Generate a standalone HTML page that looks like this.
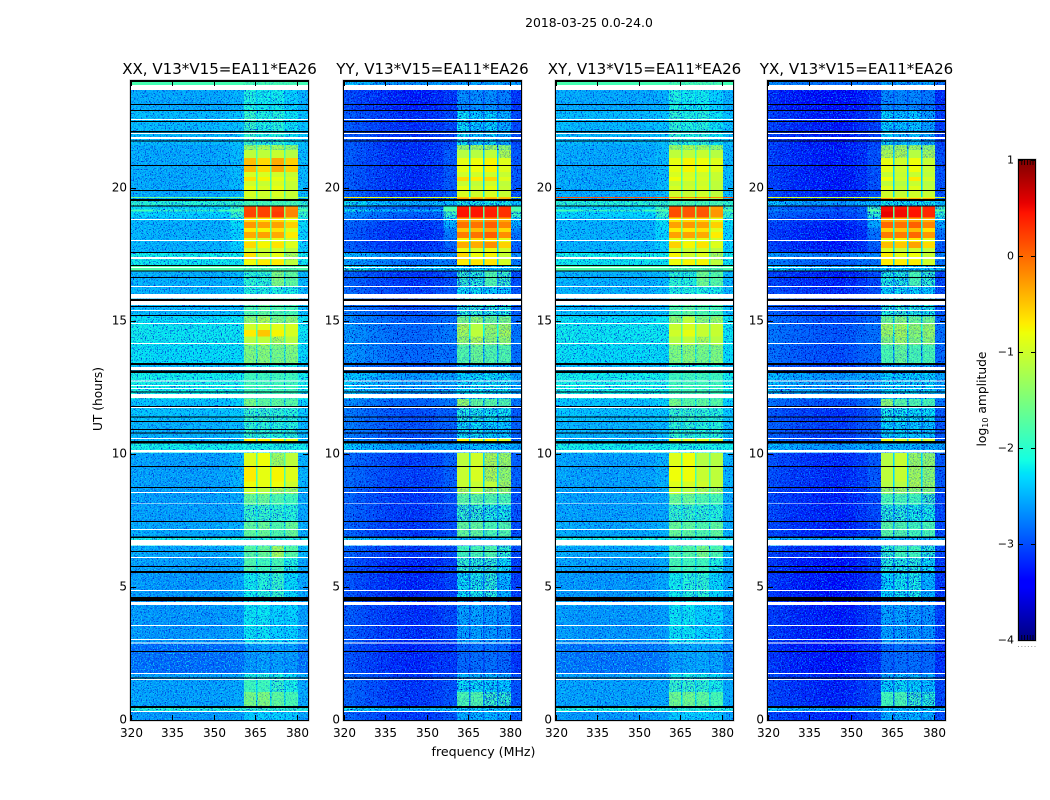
<!DOCTYPE html>
<html>
<head>
<meta charset="utf-8">
<title>2018-03-25 0.0-24.0</title>
<style>
html,body{margin:0;padding:0;background:#fff;}
svg{display:block;font-family:"DejaVu Sans","Liberation Sans",sans-serif;}
</style>
</head>
<body>
<svg id="chart" xmlns="http://www.w3.org/2000/svg" width="1050" height="800" viewBox="0 0 1050 800">
  <defs>
    <filter id="grain-dark-a" x="0" y="0" width="100%" height="100%" color-interpolation-filters="sRGB"><feTurbulence type="fractalNoise" baseFrequency="0.75" numOctaves="2" seed="4"/><feColorMatrix type="matrix" values="0 0 0 0 0  0 0 0 0 0.2  0 0 0 0 0.85  9 0 0 0 -5"/></filter>
    <filter id="grain-light-a" x="0" y="0" width="100%" height="100%" color-interpolation-filters="sRGB"><feTurbulence type="fractalNoise" baseFrequency="0.75" numOctaves="2" seed="9"/><feColorMatrix type="matrix" values="0 0 0 0 0.05  0 0 0 0 0.8  0 0 0 0 0.95  0 9 0 0 -5"/></filter>
    <filter id="grain-dark-b" x="0" y="0" width="100%" height="100%" color-interpolation-filters="sRGB"><feTurbulence type="fractalNoise" baseFrequency="0.75" numOctaves="2" seed="14"/><feColorMatrix type="matrix" values="0 0 0 0 0  0 0 0 0 0  0 0 0 0 0.7  9 0 0 0 -5"/></filter>
    <filter id="grain-light-b" x="0" y="0" width="100%" height="100%" color-interpolation-filters="sRGB"><feTurbulence type="fractalNoise" baseFrequency="0.75" numOctaves="2" seed="21"/><feColorMatrix type="matrix" values="0 0 0 0 0  0 0 0 0 0.5  0 0 0 0 1  0 9 0 0 -5"/></filter>
  </defs>
  <text x="589" y="27" font-size="12.4" text-anchor="middle" fill="#000">2018-03-25 0.0-24.0</text>
  <text x="483.5" y="756" font-size="12.6" text-anchor="middle" fill="#000">frequency (MHz)</text>
  <text x="102" y="399" font-size="12.2" text-anchor="middle" fill="#000" transform="rotate(-90 102 399)">UT (hours)</text>
  <text x="986" y="399" font-size="12.3" text-anchor="middle" fill="#000" transform="rotate(-90 986 399)">log<tspan font-size="8" dy="2">10</tspan><tspan dy="-2"> amplitude</tspan></text>
</svg>
<script>
const panelTitles = ["XX, V13*V15=EA11*EA26", "YY, V13*V15=EA11*EA26", "XY, V13*V15=EA11*EA26", "YX, V13*V15=EA11*EA26"];
const freqTicks = [320, 335, 350, 365, 380];
const hourTicks = [0, 5, 10, 15, 20];
const colorbarTicks = [1, 0, -1, -2, -3, -4];
const colorbarTickLabels = ["1", "0", "\u22121", "\u22122", "\u22123", "\u22124"];

// Channel boundaries (MHz) and the table column each channel reads from.
// Columns: 0 background, 1 near-band, 2 band gap, 3-6 the four sub-bands.
const channelStarts = [320, 324, 328, 332, 336, 340, 344, 348, 352, 356, 360.85, 365.2, 365.7, 370.3, 370.8, 375.4, 375.8, 380.3];
const channelEnd = 384;
const channelColumns = [0, 0, 0, 0, 0, 0, 0, 0, 0, 1, 3, 2, 4, 2, 5, 2, 6, 1];

// Start of each time segment (UT hours).
const segmentStarts = [0,0.34,0.53,1.05,1.5,1.77,2.85,4.62,5.52,6.08,6.53,6.87,7.44,8.08,8.49,8.71,8.95,9.5,10.03,10.48,10.55,11.2,11.8,12.05,13.03,13.37,14.08,14.4,14.65,14.9,15.15,16,16.26,16.85,17.05,17.28,17.58,17.73,17.95,18.1,18.33,18.48,18.7,18.87,19.1,19.17,19.3,19.57,19.6,19.64,19.91,20.06,20.24,20.39,20.58,21.11,21.41,21.6,22.9,23.85];
const segmentEnd = 24;

// log10 amplitude per segment: [background, near-band, gap, band1, band2, band3, band4]
const levelsXX = [
[-2.65,-2.6,-2.5,-2.35,-2.3,-2.3,-2.35],[-2.05,-2.05,-2.05,-1.95,-1.95,-1.95,-1.95],[-2.6,-2.55,-2.2,-1.5,-1.45,-1.65,-1.8],[-2.6,-2.55,-2.3,-1.85,-1.85,-1.9,-2.1],[-2.6,-2.55,-2.4,-2.1,-2.05,-2.1,-2.25],[-2.9,-2.85,-2.8,-2.65,-2.6,-2.6,-2.65],[-2.65,-2.6,-2.5,-2.2,-2.2,-2.3,-2.3],[-2.65,-2.55,-2.4,-2.15,-2,-1.9,-2.25],[-2.6,-2.55,-2.25,-1.75,-1.85,-1.8,-2.05],[-2.55,-2.45,-2.15,-1.7,-1.6,-1.25,-1.7],[-2.15,-2.15,-2.15,-2.05,-2.05,-2.05,-2.05],[-2.55,-2.5,-2.1,-1.65,-1.6,-1.75,-1.6],[-2.6,-2.55,-2.2,-1.9,-1.9,-1.95,-2],[-2.6,-2.55,-2.1,-1.6,-1.6,-1.75,-1.85],[-2.6,-2.5,-1.9,-1.05,-1.15,-1.2,-1.3],[-2.6,-2.5,-1.85,-0.8,-0.85,-0.8,-1],[-2.6,-2.5,-1.8,-0.7,-0.85,-0.75,-0.9],[-2.6,-2.5,-1.8,-0.9,-0.8,-1.25,-1.1],[-2.15,-2.15,-2.15,-2.1,-2.1,-2.1,-2.1],[-2.45,-2.4,-2,-0.75,-0.75,-0.75,-0.9],[-2.5,-2.45,-2.25,-1.95,-1.95,-2,-2],[-2.4,-2.35,-2.15,-1.9,-1.9,-1.95,-2],[-2.4,-2.3,-2.1,-1.5,-1.65,-1.65,-1.7],[-2.15,-2.15,-2.05,-1.85,-1.85,-1.85,-1.85],[-2.45,-2.45,-2.3,-2.1,-2.1,-2.1,-2.1],[-2.25,-2.25,-2,-1.45,-1.4,-1.5,-1.45],[-2.2,-2.2,-1.8,-1.15,-1.1,-1.2,-1.15],[-2.2,-2.2,-1.7,-0.7,-0.5,-0.75,-0.95],[-2.2,-2.2,-1.7,-1,-0.9,-0.9,-0.95],[-2.25,-2.2,-1.9,-1.35,-1.2,-1.45,-1.35],[-2.45,-2.4,-2.1,-1.75,-1.65,-1.75,-1.8],[-2.5,-2.45,-2.3,-2.05,-2.05,-2.05,-2.1],[-2.5,-2.45,-2.2,-1.95,-1.95,-1.45,-1.65],[-1.8,-1.8,-1.8,-1.75,-1.75,-1.75,-1.75],[-2.2,-2.2,-1.8,-0.8,-0.7,-0.7,-1.1],[-2.15,-2.15,-1.8,-0.65,-1.0,-0.85,-1.2],[-2.5,-2.35,-1.8,-1,-1.05,-1,-1.15],[-2.5,-2.3,-1.7,-0.6,-0.75,-0.65,-0.9],[-2.5,-2.3,-1.7,-0.85,-0.95,-0.85,-1],[-2.5,-2.3,-1.65,-0.35,-0.3,-0.35,-0.7],[-2.5,-2.3,-1.65,-0.7,-0.75,-0.65,-0.9],[-2.5,-2.25,-1.6,-0.25,-0.3,-0.3,-0.55],[-2.45,-2.2,-1.6,-0.6,-0.65,-0.6,-0.85],[-2.3,-1.9,-1.4,0.2,0.2,0.25,-0.15],[-1.9,-1.75,-1.4,0.2,0.2,0.2,-0.15],[-2.3,-1.9,-1.4,0.15,0.2,0.2,-0.2],[-2,-1.95,-1.9,-1.8,-1.8,-1.8,-1.8],[-2.55,-2.4,-1.8,-0.95,-1,-1,-1.15],[-1.6,-1.5,-1.4,-1.1,-1.1,-1.1,-1.1],[-2.55,-2.45,-1.8,-0.95,-1,-0.95,-1.05],[-2.55,-2.45,-1.8,-0.85,-0.95,-0.85,-1.05],[-2.55,-2.45,-1.8,-1,-1.05,-0.95,-1.05],[-2.55,-2.45,-1.75,-0.65,-0.75,-0.85,-0.95],[-2.55,-2.45,-1.8,-0.95,-0.95,-1,-1.05],[-2.55,-2.45,-1.7,-0.45,-0.6,-0.35,-0.55],[-2.55,-2.45,-1.8,-1.1,-1.1,-1.05,-1.15],[-2.55,-2.45,-1.85,-1.3,-1.2,-1.25,-1.35],[-2.45,-2.4,-2.2,-1.9,-2.05,-2,-2.2],[-2.55,-2.5,-2.35,-2.05,-2.15,-2.15,-2.3],[-1.85,-1.85,-1.85,-1.8,-1.8,-1.8,-1.8]
];
const levelsYY = [
[-3.1,-2.95,-2.75,-2.45,-2.4,-2.4,-2.45],[-2.4,-2.4,-2.4,-2.25,-2.25,-2.25,-2.25],[-3.1,-3,-2.6,-1.8,-1.75,-1.9,-1.95],[-3.1,-3,-2.7,-2.2,-2.2,-2.25,-2.3],[-3.1,-3,-2.8,-2.4,-2.35,-2.4,-2.5],[-3.2,-3.15,-3.05,-2.85,-2.8,-2.8,-2.85],[-3.15,-3.05,-2.9,-2.5,-2.5,-2.55,-2.6],[-3.2,-3.1,-2.75,-2.2,-2.1,-2,-2.4],[-3.2,-3.1,-2.65,-1.95,-2,-1.95,-2.2],[-3.1,-3,-2.55,-1.85,-1.8,-1.75,-1.95],[-2.45,-2.45,-2.45,-2.35,-2.35,-2.35,-2.35],[-3.1,-3,-2.45,-1.65,-1.65,-1.8,-1.75],[-3.1,-3,-2.55,-1.95,-1.95,-2.05,-2.1],[-3.1,-3,-2.45,-1.7,-1.7,-1.75,-1.8],[-3.1,-2.95,-2.3,-1.2,-1.15,-1.3,-1.35],[-3.05,-2.9,-2.3,-1.05,-1.05,-1.1,-1.25],[-3.05,-2.9,-2.3,-1.05,-0.95,-1.2,-1.35],[-3.05,-2.9,-2.3,-1.1,-1,-1.2,-1.3],[-2.5,-2.5,-2.45,-2.35,-2.35,-2.35,-2.35],[-2.9,-2.85,-2.3,-0.75,-0.95,-0.75,-0.95],[-2.95,-2.9,-2.65,-2.2,-2.2,-2.25,-2.3],[-2.95,-2.9,-2.55,-2.05,-2.1,-2.15,-2.15],[-2.85,-2.75,-2.35,-1.35,-1.65,-1.7,-1.75],[-2.5,-2.5,-2.35,-2.25,-2.2,-2.2,-2.2],[-2.95,-2.9,-2.75,-2.4,-2.4,-2.4,-2.4],[-2.8,-2.8,-2.45,-1.75,-1.6,-1.75,-1.75],[-2.8,-2.75,-2.25,-1.35,-1.2,-1.4,-1.35],[-2.8,-2.75,-2.15,-1.25,-1.1,-1.35,-1.25],[-2.8,-2.75,-2.15,-1.2,-1.15,-1.3,-1.3],[-2.85,-2.8,-2.25,-1.5,-1.4,-1.6,-1.5],[-2.95,-2.9,-2.55,-2,-1.95,-2,-2.05],[-3.05,-2.95,-2.65,-2.2,-2.2,-2.25,-2.3],[-3.1,-3,-2.55,-1.95,-2,-1.75,-1.9],[-2.35,-2.35,-2.35,-2.3,-2.3,-2.3,-2.3],[-2.75,-2.75,-2.3,-0.7,-0.65,-0.65,-0.95],[-2.6,-2.6,-2.3,-0.6,-0.8,-0.75,-1.05],[-3.1,-2.95,-2.3,-0.85,-0.95,-0.85,-1],[-3.15,-2.85,-2.3,-0.35,-0.35,-0.2,-0.55],[-3.15,-2.8,-2.3,-0.75,-0.6,-0.6,-0.85],[-3.15,-2.75,-2.2,-0.1,-0.05,0.05,-0.2],[-3.15,-2.7,-2.2,-0.5,-0.45,-0.35,-0.6],[-3.1,-2.45,-2.15,-0.05,-0.05,0.05,-0.15],[-3,-2.3,-2.1,-0.3,-0.3,-0.2,-0.35],[-2.85,-1.9,-1.7,0.45,0.45,0.4,0.3],[-2.35,-1.7,-1.6,0.45,0.45,0.4,0.3],[-2.85,-1.85,-1.7,0.4,0.4,0.35,0.3],[-2.4,-2.35,-2.25,-2.1,-2.1,-2.1,-2.1],[-3.05,-2.75,-1.6,-0.25,-0.3,-0.3,-0.35],[-0.9,-0.9,-0.9,-0.5,-0.5,-0.5,-0.5],[-3.1,-2.95,-2.2,-0.95,-1,-0.95,-1.05],[-3.15,-2.95,-2.3,-0.85,-1,-0.85,-1.05],[-3.15,-2.95,-2.3,-1.05,-1.1,-1,-1.1],[-3.15,-2.95,-2.3,-0.6,-0.7,-0.6,-0.9],[-3.15,-2.95,-2.3,-1,-1,-1,-1.05],[-3.15,-2.95,-2.3,-0.85,-0.8,-0.75,-0.9],[-3.15,-2.95,-2.35,-1.15,-1.15,-1.1,-1.2],[-3.15,-3,-2.4,-1.35,-1.3,-1.3,-1.4],[-3.15,-3.05,-2.75,-2.2,-2.3,-2.25,-2.45],[-3.25,-3.15,-2.95,-2.6,-2.6,-2.6,-2.7],[-2.55,-2.55,-2.55,-2.5,-2.5,-2.5,-2.5]
];
const levelsXY = [
[-2.65,-2.6,-2.5,-2.35,-2.3,-2.3,-2.35],[-2.1,-2.1,-2.1,-2,-2,-2,-2],[-2.6,-2.55,-2.2,-1.55,-1.55,-1.65,-1.8],[-2.6,-2.55,-2.3,-1.9,-1.9,-1.95,-2.1],[-2.6,-2.55,-2.4,-2.15,-2.1,-2.15,-2.25],[-2.85,-2.8,-2.75,-2.6,-2.55,-2.55,-2.6],[-2.65,-2.6,-2.5,-2.2,-2.2,-2.3,-2.3],[-2.65,-2.55,-2.4,-2.15,-2,-1.95,-2.25],[-2.6,-2.55,-2.25,-1.8,-1.85,-1.85,-2.05],[-2.55,-2.45,-2.15,-1.75,-1.7,-1.5,-1.75],[-2.15,-2.15,-2.15,-2.05,-2.05,-2.05,-2.05],[-2.55,-2.5,-2.1,-1.6,-1.65,-1.75,-1.65],[-2.6,-2.55,-2.2,-1.9,-1.9,-1.95,-2],[-2.6,-2.55,-2.1,-1.6,-1.6,-1.75,-1.8],[-2.6,-2.5,-1.9,-1,-1.15,-1.2,-1.3],[-2.6,-2.5,-1.85,-0.9,-0.95,-1,-1.1],[-2.6,-2.5,-1.8,-0.8,-0.8,-1.05,-1.1],[-2.6,-2.5,-1.8,-0.9,-0.8,-1.15,-1.15],[-2.15,-2.15,-2.15,-2.1,-2.1,-2.1,-2.1],[-2.45,-2.4,-2,-0.95,-0.95,-0.95,-1.05],[-2.5,-2.45,-2.25,-1.95,-1.95,-2,-2],[-2.4,-2.35,-2.15,-1.9,-1.9,-1.95,-2],[-2.4,-2.3,-2.1,-1.5,-1.7,-1.65,-1.7],[-2.15,-2.15,-2.05,-1.85,-1.85,-1.85,-1.85],[-2.45,-2.45,-2.3,-2.1,-2.1,-2.1,-2.1],[-2.25,-2.25,-2,-1.45,-1.4,-1.5,-1.45],[-2.2,-2.2,-1.8,-1.15,-1.1,-1.2,-1.15],[-2.2,-2.2,-1.7,-1,-0.85,-1.05,-1.05],[-2.2,-2.2,-1.7,-1.05,-0.95,-1.05,-1.05],[-2.25,-2.2,-1.9,-1.35,-1.1,-1.4,-1.3],[-2.45,-2.4,-2.1,-1.75,-1.65,-1.75,-1.8],[-2.5,-2.45,-2.3,-2.05,-2.05,-2.05,-2.1],[-2.5,-2.45,-2.2,-1.95,-2,-1.55,-1.7],[-1.8,-1.8,-1.8,-1.75,-1.75,-1.75,-1.75],[-2.2,-2.2,-1.8,-0.8,-0.75,-0.75,-1.1],[-2.15,-2.15,-1.8,-0.75,-1,-0.9,-1.2],[-2.5,-2.35,-1.8,-1,-1.05,-1,-1.15],[-2.5,-2.3,-1.7,-0.55,-0.75,-0.65,-0.9],[-2.5,-2.3,-1.7,-0.85,-0.9,-0.85,-1],[-2.5,-2.3,-1.65,-0.3,-0.3,-0.35,-0.7],[-2.5,-2.3,-1.65,-0.7,-0.7,-0.65,-0.9],[-2.5,-2.25,-1.6,-0.3,-0.25,-0.3,-0.55],[-2.45,-2.2,-1.6,-0.65,-0.6,-0.6,-0.85],[-2.3,-1.9,-1.4,0.15,0.1,0.1,-0.25],[-1.9,-1.75,-1.4,0.15,0.1,0.1,-0.25],[-2.3,-1.9,-1.4,0.1,0.1,0.05,-0.3],[-2,-1.95,-1.9,-1.8,-1.8,-1.8,-1.8],[-2.55,-2.4,-1.8,-0.95,-1,-1,-1.15],[0.1,0.1,0.1,-0.2,-0.2,-0.2,-0.2],[-2.55,-2.45,-1.8,-1,-1.05,-1,-1.1],[-2.55,-2.45,-1.8,-0.95,-1,-0.95,-1.1],[-2.55,-2.45,-1.8,-1.05,-1.05,-1,-1.1],[-2.55,-2.45,-1.75,-0.8,-0.9,-0.95,-1.05],[-2.55,-2.45,-1.8,-0.95,-0.95,-1,-1.05],[-2.55,-2.45,-1.7,-0.85,-0.75,-0.8,-0.9],[-2.55,-2.45,-1.8,-1.1,-1.1,-1.05,-1.15],[-2.55,-2.45,-1.85,-1.3,-1.2,-1.25,-1.35],[-2.45,-2.4,-2.2,-1.95,-2.05,-2,-2.2],[-2.55,-2.5,-2.35,-2.05,-2.15,-2.15,-2.3],[-1.85,-1.85,-1.85,-1.8,-1.8,-1.8,-1.8]
];
const levelsYX = [
[-3.2,-3,-2.75,-2.45,-2.4,-2.4,-2.45],[-2.45,-2.45,-2.45,-2.3,-2.3,-2.3,-2.3],[-3.2,-3.05,-2.6,-1.85,-1.8,-1.9,-2],[-3.2,-3.05,-2.75,-2.25,-2.2,-2.25,-2.35],[-3.2,-3.05,-2.8,-2.45,-2.4,-2.4,-2.5],[-3.3,-3.2,-3.05,-2.85,-2.8,-2.8,-2.85],[-3.25,-3.1,-2.9,-2.5,-2.5,-2.55,-2.6],[-3.3,-3.15,-2.75,-2.25,-2.15,-2.1,-2.4],[-3.3,-3.15,-2.65,-2.05,-2.05,-2,-2.2],[-3.2,-3.05,-2.55,-1.95,-1.85,-1.85,-2],[-2.5,-2.5,-2.45,-2.35,-2.35,-2.35,-2.35],[-3.2,-3.05,-2.45,-1.7,-1.75,-1.85,-1.8],[-3.2,-3.05,-2.55,-2,-2,-2.1,-2.1],[-3.2,-3.05,-2.45,-1.8,-1.8,-1.85,-1.9],[-3.2,-3,-2.3,-1.3,-1.3,-1.4,-1.45],[-3.15,-2.95,-2.3,-1.15,-1.15,-1.2,-1.35],[-3.15,-2.95,-2.3,-1.1,-1.05,-1.25,-1.4],[-3.15,-2.95,-2.3,-1.15,-1.05,-1.3,-1.35],[-2.5,-2.5,-2.45,-2.4,-2.4,-2.4,-2.4],[-3,-2.9,-2.3,-0.85,-1,-0.85,-1.05],[-3.05,-2.95,-2.65,-2.25,-2.25,-2.3,-2.35],[-3.1,-2.95,-2.55,-2.1,-2.15,-2.2,-2.2],[-2.95,-2.8,-2.35,-1.4,-1.7,-1.75,-1.8],[-2.5,-2.5,-2.4,-2.25,-2.25,-2.25,-2.25],[-3.05,-2.95,-2.75,-2.45,-2.45,-2.45,-2.45],[-2.95,-2.85,-2.45,-1.8,-1.65,-1.8,-1.8],[-2.9,-2.8,-2.25,-1.45,-1.3,-1.45,-1.4],[-2.9,-2.8,-2.15,-1.3,-1.25,-1.4,-1.35],[-2.9,-2.8,-2.15,-1.25,-1.25,-1.35,-1.3],[-2.95,-2.85,-2.25,-1.55,-1.45,-1.6,-1.55],[-3.05,-2.95,-2.55,-2.05,-1.95,-2.05,-2.1],[-3.15,-3,-2.65,-2.25,-2.2,-2.25,-2.3],[-3.2,-3.05,-2.55,-2.05,-2.05,-1.8,-1.95],[-2.4,-2.4,-2.35,-2.3,-2.3,-2.3,-2.3],[-2.85,-2.8,-2.3,-0.7,-0.7,-0.7,-1],[-2.7,-2.65,-2.3,-0.7,-0.85,-0.8,-1.05],[-3.2,-3,-2.3,-0.95,-1.05,-1,-1.1],[-3.25,-2.9,-2.3,-0.45,-0.5,-0.3,-0.6],[-3.25,-2.85,-2.3,-0.85,-0.75,-0.7,-0.9],[-3.25,-2.8,-2.2,-0.1,-0.1,0,-0.25],[-3.25,-2.75,-2.2,-0.55,-0.5,-0.45,-0.65],[-3.2,-2.5,-2.15,0,-0.05,0.05,-0.15],[-3.1,-2.35,-2.1,-0.35,-0.35,-0.3,-0.4],[-3,-1.95,-1.7,0.55,0.5,0.45,0.35],[-2.8,-1.75,-1.6,0.5,0.5,0.45,0.35],[-3,-1.9,-1.7,0.5,0.45,0.4,0.35],[-2.5,-2.4,-2.25,-2.15,-2.15,-2.15,-2.15],[-3.15,-2.8,-1.6,-0.25,-0.35,-0.35,-0.35],[-1,-1,-1,-0.9,-0.9,-0.9,-0.9],[-3.2,-3,-2.25,-1,-1.05,-1,-1.05],[-3.25,-3,-2.3,-0.9,-1.05,-0.9,-1.1],[-3.25,-3,-2.3,-1.1,-1.15,-1.05,-1.15],[-3.25,-3,-2.3,-0.8,-1,-0.7,-1],[-3.25,-3,-2.3,-1.05,-1.05,-1.05,-1.1],[-3.25,-3,-2.3,-0.85,-1,-0.8,-1.05],[-3.25,-3,-2.35,-1.2,-1.2,-1.15,-1.25],[-3.25,-3.05,-2.4,-1.35,-1.3,-1.3,-1.4],[-3.25,-3.1,-2.75,-2.25,-2.35,-2.3,-2.5],[-3.35,-3.2,-2.95,-2.65,-2.65,-2.65,-2.75],[-2.75,-2.75,-2.75,-2.5,-2.5,-2.5,-2.5]
];

// Background offset for channels 320..352 in 4 MHz steps (log10 amplitude).
const bgShapeXX = [0.04, 0.02, 0, 0, 0, 0, 0, 0, 0.02];
const bgShapeYY = [0.22, 0.16, 0.1, 0.05, 0, -0.03, -0.05, -0.03, 0.03];
const bgShapeXY = [0.04, 0.02, 0, 0, 0, 0, 0, 0, 0.02];
const bgShapeYX = [0.14, 0.08, 0.03, 0, -0.03, -0.06, -0.08, -0.03, 0.05];

// Flagged intervals in UT hours: drawn white (no data) or black (below scale).
const whiteFlags = [[0.3,0.34],[1.5,1.54],[1.73,1.77],[2.87,2.91],[3,3.04],[3.53,3.57],[4.32,4.43],[4.84,4.88],[6.08,6.12],[6.55,6.76],[7.14,7.17],[8.11,8.14],[8.53,8.56],[10.05,10.14],[10.55,10.59],[11.72,11.76],[12.09,12.24],[12.43,12.47],[12.55,12.58],[12.71,12.75],[13.15,13.26],[14.12,14.16],[14.87,14.91],[15.36,15.4],[15.59,15.74],[15.83,16],[16.26,16.3],[16.98,17.02],[17.31,17.39],[18,18.03],[18.78,18.82],[21.82,21.9],[22.01,22.05],[22.54,22.57],[23.66,23.85]];
const blackFlags = [[0.45,0.53],[1.56,1.6],[2.55,2.59],[4.47,4.62],[5.52,5.6],[5.75,5.78],[6.31,6.35],[6.84,6.89],[7.44,7.48],[8.71,8.75],[9.5,9.54],[10.38,10.48],[10.76,10.8],[10.89,10.93],[11.19,11.23],[11.36,11.4],[11.76,11.79],[12.3,12.34],[13.03,13.13],[13.33,13.41],[15.17,15.21],[15.51,15.55],[15.74,15.81],[16.6,16.64],[16.85,16.89],[17.05,17.09],[17.54,17.58],[19.29,19.32],[19.49,19.57],[19.87,19.91],[20.81,20.85],[21.73,21.77],[22.07,22.13],[22.46,22.5],[22.87,22.91],[23.1,23.14],[23.96,24]];

const panelLevels = [levelsXX, levelsYY, levelsXY, levelsYX];
const panelShapes = [bgShapeXX, bgShapeYY, bgShapeXY, bgShapeYX];
const panelNames = ["xx", "yy", "xy", "yx"];
const panelLefts = [131, 344, 556, 768];
const panelGrain = ["a", "b", "a", "b"];
const plotWidth = 177, plotTop = 81, plotBottom = 720;
const SVGNS = "http://www.w3.org/2000/svg";
const chart = document.getElementById("chart");

function xScale(left, f) { return left + (f - 320) / 64 * plotWidth; }
function yScale(h) { return plotBottom - h / 24 * (plotBottom - plotTop); }
function ramp(v, pts) {
  for (let i = 1; i < pts.length; i++) {
    if (v <= pts[i][0]) {
      const t = (v - pts[i-1][0]) / (pts[i][0] - pts[i-1][0]);
      return pts[i-1][1] + t * (pts[i][1] - pts[i-1][1]);
    }
  }
  return pts[pts.length-1][1];
}
function jet(level) {
  const n = Math.max(0, Math.min(1, (level + 4) / 5));
  const r = ramp(n, [[0,0],[0.35,0],[0.66,1],[0.89,1],[1,0.5]]);
  const g = ramp(n, [[0,0],[0.125,0],[0.375,1],[0.64,1],[0.91,0],[1,0]]);
  const b = ramp(n, [[0,0.5],[0.11,1],[0.34,1],[0.65,0],[1,0]]);
  return "rgb(" + Math.round(r*255) + "," + Math.round(g*255) + "," + Math.round(b*255) + ")";
}
function make(tag, parent, attrs) {
  const el = document.createElementNS(SVGNS, tag);
  for (const k in attrs) el.setAttribute(k, attrs[k]);
  parent.appendChild(el);
  return el;
}

panelLevels.forEach(function (levels, p) {
  const left = panelLefts[p];
  const panel = make("g", chart, {});
  
  

  const clip = make("clipPath", panel, { id: "clip-" + p });
  
  
  make("rect", clip, { x: left, y: plotTop, width: plotWidth, height: plotBottom - plotTop });

  const under = make("g", panel, { "shape-rendering": "crispEdges" });
  
  
  const grain = make("g", panel, { "clip-path": "url(#clip-" + p + ")" });
  
  
  const middle = make("g", panel, { "shape-rendering": "crispEdges" });
  
  
  const softGrain = make("g", panel, { "clip-path": "url(#clip-" + p + ")", opacity: 0.4 });
  
  
  const over = make("g", panel, { "shape-rendering": "crispEdges" });
  
  

  levels.forEach(function (row, s) {
    const h0 = segmentStarts[s];
    const h1 = s + 1 < segmentStarts.length ? segmentStarts[s+1] : segmentEnd;
    channelStarts.forEach(function (f0, c) {
      const f1 = c + 1 < channelStarts.length ? channelStarts[c+1] : channelEnd;
      const col = channelColumns[c];
      const shape = col === 0 ? panelShapes[p][c] : 0;
      const level = row[col] + shape;
      const x0 = xScale(left, f0), x1 = xScale(left, f1);
      const y0 = yScale(h1), y1 = yScale(h0);
      let layer = under;
      if (level > -1.2 || (col === 2 && row[3] > -1.3)) layer = over;
      else if (level > -1.9) layer = middle;
      const cell = make("rect", layer, { x: x0, y: y0, width: x1 - x0, height: y1 - y0, fill: jet(level) });
      
      
    });
  });

  ["dark", "light"].forEach(function (tone) {
    const filterUrl = "url(#grain-" + tone + "-" + panelGrain[p] + ")";
    const g = make("rect", grain, { x: left, y: plotTop, width: plotWidth, height: plotBottom - plotTop, filter: filterUrl });
    
    
    const bandLeft = xScale(left, channelStarts[10]);
    const bandRight = xScale(left, channelStarts[17]);
    const s = make("rect", softGrain, { x: bandLeft, y: plotTop, width: bandRight - bandLeft, height: plotBottom - plotTop, filter: filterUrl });
    
    
  });

  const flags = make("g", panel, { "shape-rendering": "crispEdges" });
  
  
  whiteFlags.forEach(function (fl) {
    const r = make("rect", flags, { x: left, y: yScale(fl[1]), width: plotWidth, height: yScale(fl[0]) - yScale(fl[1]), fill: "#fff" });
    
    
  });
  blackFlags.forEach(function (fl) {
    const r = make("rect", flags, { x: left, y: yScale(fl[1]), width: plotWidth, height: yScale(fl[0]) - yScale(fl[1]), fill: "#000" });
    
    
  });

  const frameOuter = make("rect", panel, { x: left - 1, y: plotTop - 1, width: plotWidth + 2, height: plotBottom - plotTop + 2, fill: "none", stroke: "#bbb", "stroke-width": 1 });
  
  
  const frame = make("rect", panel, { x: left - 0.5, y: plotTop - 0.5, width: plotWidth + 1, height: plotBottom - plotTop + 1, fill: "none", stroke: "#000", "stroke-width": 1 });
  
  

  const title = make("text", panel, { x: left + plotWidth / 2, y: 74, "font-size": 15.05, "text-anchor": "middle", fill: "#000" });
  title.textContent = panelTitles[p];
  
  

  freqTicks.forEach(function (f) {
    const x = Math.round(xScale(left, f)) + 0.5;
    const t1 = make("line", panel, { x1: x, x2: x, y1: plotBottom, y2: plotBottom - 5, stroke: "#000" });
    
    
    const t2 = make("line", panel, { x1: x, x2: x, y1: plotTop, y2: plotTop + 5, stroke: "#000" });
    
    
    const label = make("text", panel, { x: x, y: 737, "font-size": 12, "text-anchor": "middle", fill: "#000" });
    label.textContent = f;
    
    
  });
  hourTicks.forEach(function (h) {
    const y = Math.round(yScale(h)) + 0.5;
    const t1 = make("line", panel, { x1: left, x2: left + 5, y1: y, y2: y, stroke: "#000" });
    
    
    const t2 = make("line", panel, { x1: left + plotWidth, x2: left + plotWidth - 5, y1: y, y2: y, stroke: "#000" });
    
    
    const label = make("text", panel, { x: left - 4, y: y + 3, "font-size": 12, "text-anchor": "end", fill: "#000" });
    label.textContent = h;
    
    
  });
});

// Colorbar
const cbLeft = 1019, cbWidth = 16, cbTop = 160, cbBottom = 640;
function cbScale(v) { return cbBottom - (v + 4) / 5 * (cbBottom - cbTop); }
const colorbar = make("g", chart, {});


const cbCells = make("g", colorbar, { "shape-rendering": "crispEdges" });


for (let y = cbTop; y < cbBottom; y++) {
  const v = 1 - (y - cbTop + 0.5) / (cbBottom - cbTop) * 5;
  const slice = make("rect", cbCells, { x: cbLeft, y: y, width: cbWidth, height: 1, fill: jet(v) });
  
  
}
const cbHalo = make("rect", colorbar, { x: cbLeft - 1, y: cbTop - 1, width: cbWidth + 2, height: cbBottom - cbTop + 2, fill: "none", stroke: "#bbb" });


const cbFrame = make("rect", colorbar, { x: cbLeft - 0.5, y: cbTop - 0.5, width: cbWidth + 1, height: cbBottom - cbTop + 1, fill: "none", stroke: "#000" });


colorbarTicks.forEach(function (v, i) {
  const y = Math.round(cbScale(v)) + 0.5;
  const a = make("line", colorbar, { x1: cbLeft, x2: cbLeft + 4, y1: y, y2: y, stroke: "#000" });
  
  
  const b = make("line", colorbar, { x1: cbLeft + cbWidth, x2: cbLeft + cbWidth - 4, y1: y, y2: y, stroke: "#000" });
  
  
  const label = make("text", colorbar, { x: 1014, y: y + 3, "font-size": 11, "text-anchor": "end", fill: "#000" });
  label.textContent = colorbarTickLabels[i];
  
  
});
for (let k = 1; k < 6; k++) {
  const x = cbLeft + k * 2.8;
  const top = make("line", colorbar, { x1: x, x2: x, y1: cbTop, y2: cbTop + 5, stroke: "#000", "stroke-width": 0.8 });
  
  
  const bottom = make("line", colorbar, { x1: x, x2: x, y1: cbBottom, y2: cbBottom - 5, stroke: "#000", "stroke-width": 0.8 });
  
  
}
for (let k = 0; k < 6; k++) {
  const dot = make("rect", colorbar, { x: 1018 + k * 3.3, y: 646, width: 1, height: 1, fill: "#999" });
  
  
}
</script>
</body>
</html>
